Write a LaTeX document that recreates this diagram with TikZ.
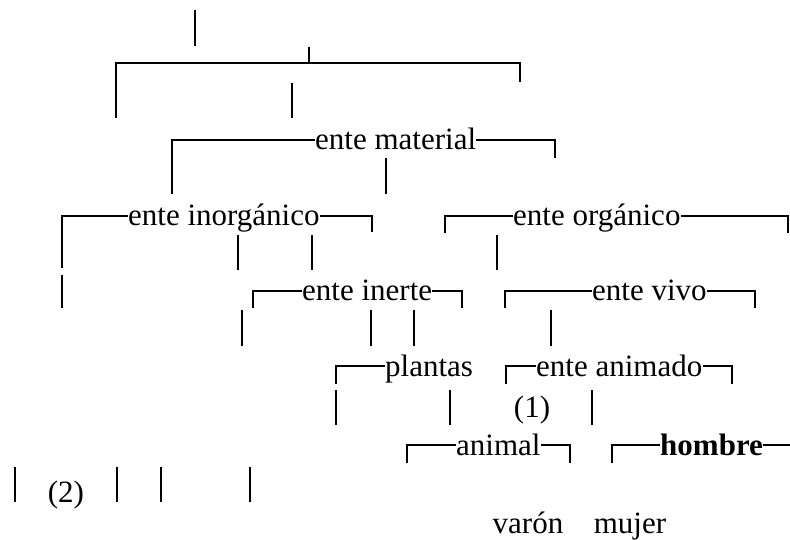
\documentclass[tikz,border=0pt]{standalone}
\usepackage{fontspec}
\setmainfont{Liberation Serif}
\usepackage{tikz}

\begin{document}
\begin{tikzpicture}[
    x=1pt, y=-1pt,
    rule/.style={line width=2.8pt},
    word/.style={font=\fontsize{31}{36}\selectfont, inner sep=0pt,
      text height=20pt, text depth=0pt, anchor=base west},
    note/.style={font=\fontsize{31}{36}\selectfont, inner sep=0pt, anchor=base},
  ]
  \useasboundingbox (0,0) rectangle (790,540);

  % Top bracket, no label
  \draw[rule] (195,10) -- (195,46);
  \draw[rule] (116,118) |- (520,63) -- (520,82);
  \draw[rule] (309,47) -- (309,63);
  \draw[rule] (292,83) -- (292,118);

  % Labelled rows
  \node[word] (mat) at (315,150) {ente material};
  \node[word] (inorg) at (128,226) {ente inorgánico};
  \node[word] (org) at (513,226) {ente orgánico};
  \node[word] (inerte) at (302,301) {ente inerte};
  \node[word] (vivo) at (592,301) {ente vivo};
  \node[word] (plant) at (385,376) {plantas};
  \node[word] (anim) at (536,376) {ente animado};
  \node[word] (animal) at (456,455) {animal};
  \node[word, font=\fontsize{31}{36}\selectfont\bfseries] (hom) at (660,455) {hombre};

  % Bracket corners
  \coordinate (matL) at (172,194);    \coordinate (matR) at (555,158);
  \coordinate (inorgL) at (62,268);   \coordinate (inorgR) at (372,232);
  \coordinate (orgL) at (445,233);    \coordinate (orgR) at (788,233);
  \coordinate (inerteL) at (253,308); \coordinate (inerteR) at (462,308);
  \coordinate (vivoL) at (505,308);   \coordinate (vivoR) at (755,308);
  \coordinate (plantL) at (336,384);
  \coordinate (animL) at (506,384);   \coordinate (animR) at (732,384);
  \coordinate (animalL) at (407,463); \coordinate (animalR) at (570,463);
  \coordinate (homL) at (612,463);    \coordinate (homR) at (790,445);

  \draw[rule] (matL) |- (mat.west);       \draw[rule] (mat.east) -| (matR);
  \draw[rule] (inorgL) |- (inorg.west);   \draw[rule] (inorg.east) -| (inorgR);
  \draw[rule] (orgL) |- (org.west);       \draw[rule] (org.east) -| (orgR);
  \draw[rule] (inerteL) |- (inerte.west); \draw[rule] (inerte.east) -| (inerteR);
  \draw[rule] (vivoL) |- (vivo.west);     \draw[rule] (vivo.east) -| (vivoR);
  \draw[rule] (plantL) |- (plant.west);
  \draw[rule] (animL) |- (anim.west);     \draw[rule] (anim.east) -| (animR);
  \draw[rule] (animalL) |- (animal.west); \draw[rule] (animal.east) -| (animalR);
  \draw[rule] (homL) |- (hom.west);       \draw[rule] (hom.east) -- (homR);

  % Loose vertical bars
  \draw[rule] (386,158) -- (386,194);
  \foreach \x in {238,312,497}
    \draw[rule] (\x,235) -- (\x,270);
  \draw[rule] (62,275) -- (62,308);
  \foreach \x in {242,371,414,551}
    \draw[rule] (\x,310) -- (\x,346);
  \foreach \x in {336,450,592}
    \draw[rule] (\x,390) -- (\x,425);
  \foreach \x in {15,117,161,250}
    \draw[rule] (\x,467) -- (\x,502);

  % Marks and bottom words
  \node[note] (one) at (532,417) {(1)};
  \node[note] (two) at (66,502) {(2)};
  \node[note] (varon) at (528,533) {varón};
  \node[note] (mujer) at (630,533) {mujer};
\end{tikzpicture}
\end{document}
